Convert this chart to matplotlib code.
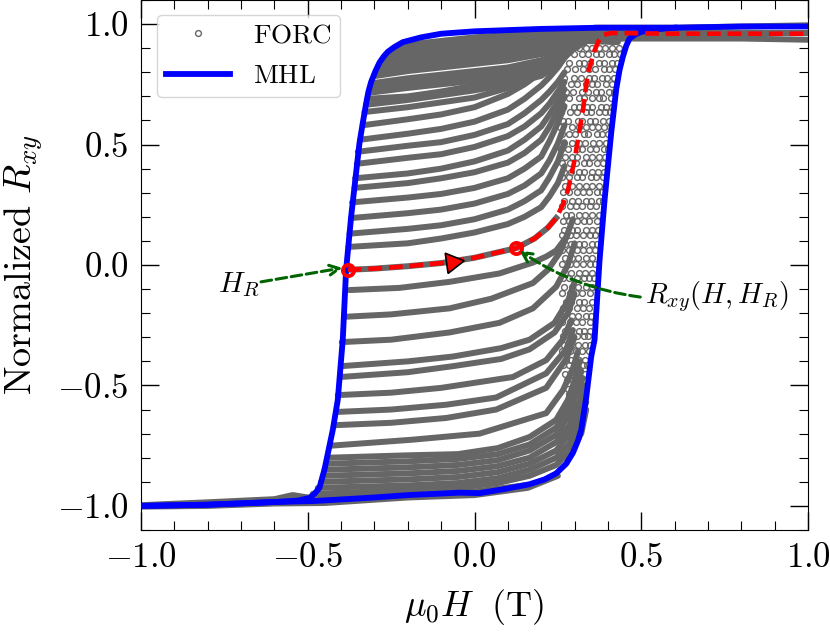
import matplotlib
matplotlib.use("Agg")
import matplotlib.pyplot as plt
from matplotlib.ticker import MultipleLocator

plt.rcParams['mathtext.fontset'] = 'cm'
plt.rcParams['font.family'] = ['cmr10', 'DejaVu Sans']
plt.rcParams['axes.unicode_minus'] = False

# Major hysteresis loop
MHL_H = [-1.0, -0.8, -0.585, -0.53, -0.495, -0.48, -0.465, -0.45, -0.425, -0.41, -0.395, -0.385, -0.37, -0.345, -0.335,
         -0.325, -0.318, -0.31, -0.297, -0.285, -0.272, -0.26, -0.24, -0.215, -0.16, -0.1, 0.0, 0.2, 0.375, 0.6, 0.8, 1.0]
MHL_R = [-1.0, -0.995, -0.983, -0.978, -0.967, -0.95, -0.925, -0.85, -0.685, -0.56, -0.31, -0.02, 0.2, 0.505, 0.59,
         0.67, 0.72, 0.76, 0.805, 0.84, 0.866, 0.885, 0.905, 0.925, 0.945, 0.96, 0.97, 0.98, 0.985, 0.985, 0.99, 0.99]
MHL_UP_H = [-1.0, -0.8, -0.585, -0.485, -0.3, -0.2, -0.12, -0.045, 0.015, 0.09, 0.165, 0.21, 0.245, 0.275, 0.295, 0.31,
            0.32, 0.335, 0.35, 0.36, 0.375, 0.39, 0.41, 0.425, 0.435, 0.445, 0.455, 0.465, 0.48, 0.495, 0.52, 0.6]
MHL_UP_R = [-1.0, -0.995, -0.983, -0.98, -0.965, -0.955, -0.95, -0.945, -0.947, -0.93, -0.91, -0.89, -0.865, -0.825, -0.78,
            -0.73, -0.685, -0.55, -0.38, -0.31, 0.02, 0.27, 0.55, 0.73, 0.81, 0.865, 0.91, 0.94, 0.955, 0.965, 0.975, 0.985]

# Highlighted FORC
RED_H = [-0.38, -0.3, -0.2, -0.1, 0.0, 0.125, 0.18, 0.22, 0.245, 0.265, 0.28, 0.30, 0.325, 0.34, 0.36, 0.372, 0.385, 0.41, 0.6, 0.8, 1.0]
RED_R = [-0.02, -0.015, -0.005, 0.008, 0.03, 0.07, 0.11, 0.155, 0.195, 0.25, 0.31, 0.435, 0.643, 0.797, 0.89, 0.93, 0.955, 0.963, 0.96, 0.96, 0.96]
RED_GREY_H = [-0.38, -0.3, -0.2, -0.1, 0.0, 0.125, 0.18, 0.22, 0.245]
RED_GREY_R = [-0.02, -0.015, -0.005, 0.008, 0.03, 0.07, 0.11, 0.155, 0.195]
START_H, START_R = [-0.38], [-0.02]
MID_H, MID_R = [0.125], [0.07]
ARROW_H, ARROW_R = [-0.067], [0.012]

# FORC bands: one (H, R) pair of lists per reversal field
FORC = [
    ([-0.24, -0.2, -0.1, 0, 0.1, 0.2, 0.27, 0.33, 0.43], [0.90, 0.915, 0.93, 0.945, 0.955, 0.96, 0.965, 0.97, 0.975]),
    ([-0.255, -0.2, -0.1, 0, 0.1, 0.2, 0.27, 0.33, 0.44], [0.88, 0.90, 0.915, 0.93, 0.94, 0.95, 0.955, 0.96, 0.955]),
    ([-0.265, -0.2, -0.1, 0, 0.1, 0.2, 0.27, 0.33, 0.44], [0.865, 0.885, 0.90, 0.915, 0.925, 0.935, 0.945, 0.945, 0.94]),
    ([-0.28, -0.2, -0.1, 0, 0.1, 0.2, 0.27, 0.33, 0.43], [0.845, 0.865, 0.88, 0.895, 0.905, 0.92, 0.93, 0.93, 0.925]),
    ([-0.285, -0.2, -0.1, 0, 0.1, 0.2, 0.27, 0.33], [0.825, 0.845, 0.86, 0.875, 0.89, 0.905, 0.92, 0.92]),
    ([-0.29, -0.2, -0.1, 0, 0.1, 0.2, 0.27, 0.32], [0.805, 0.825, 0.84, 0.855, 0.87, 0.89, 0.91, 0.915]),
    ([-0.295, -0.2, -0.1, 0, 0.1, 0.2, 0.27, 0.31], [0.785, 0.805, 0.82, 0.835, 0.85, 0.875, 0.90, 0.91]),
    ([-0.305, -0.2, -0.1, 0, 0.1, 0.2, 0.27, 0.31], [0.755, 0.775, 0.79, 0.805, 0.82, 0.85, 0.885, 0.905]),
    ([-0.31, -0.2, -0.1, 0, 0.1, 0.2, 0.27, 0.30], [0.735, 0.755, 0.77, 0.785, 0.80, 0.83, 0.875, 0.90]),
    ([-0.315, -0.2, -0.1, 0, 0.1, 0.2, 0.26, 0.29], [0.715, 0.735, 0.75, 0.765, 0.78, 0.81, 0.855, 0.885]),
    ([-0.32, -0.2, -0.1, 0, 0.1, 0.2, 0.25, 0.28], [0.69, 0.70, 0.72, 0.745, 0.765, 0.80, 0.84, 0.88]),
    ([-0.325, -0.2, -0.1, 0, 0.1, 0.2, 0.25, 0.28], [0.665, 0.685, 0.705, 0.725, 0.75, 0.785, 0.83, 0.875]),
    ([-0.33, -0.2, -0.1, 0, 0.1, 0.2, 0.25, 0.27], [0.635, 0.655, 0.675, 0.695, 0.735, 0.805, 0.865, 0.89]),
    ([-0.335, -0.2, -0.1, 0, 0.1, 0.15, 0.2, 0.225, 0.25, 0.27], [0.58, 0.605, 0.625, 0.655, 0.71, 0.75, 0.80, 0.835, 0.87, 0.90]),
    ([-0.343, -0.2, -0.1, 0, 0.1, 0.15, 0.2, 0.225, 0.25, 0.27], [0.52, 0.545, 0.565, 0.595, 0.645, 0.69, 0.745, 0.78, 0.82, 0.86]),
    ([-0.35, -0.2, -0.1, 0, 0.1, 0.15, 0.2, 0.225, 0.25, 0.27], [0.47, 0.495, 0.51, 0.54, 0.585, 0.63, 0.685, 0.72, 0.76, 0.80]),
    ([-0.353, -0.2, -0.1, 0, 0.1, 0.15, 0.2, 0.225, 0.25, 0.27], [0.42, 0.445, 0.46, 0.49, 0.535, 0.575, 0.63, 0.67, 0.72, 0.76]),
    ([-0.358, -0.2, -0.1, 0, 0.1, 0.15, 0.2, 0.225, 0.25, 0.27], [0.36, 0.38, 0.40, 0.43, 0.475, 0.52, 0.575, 0.625, 0.68, 0.73]),
    ([-0.36, -0.2, -0.1, 0, 0.1, 0.15, 0.2, 0.225, 0.25, 0.27], [0.32, 0.34, 0.36, 0.385, 0.425, 0.465, 0.52, 0.575, 0.64, 0.70]),
    ([-0.367, -0.2, -0.1, 0, 0.1, 0.15, 0.2, 0.225, 0.25, 0.27], [0.26, 0.28, 0.295, 0.32, 0.36, 0.40, 0.45, 0.515, 0.59, 0.66]),
    ([-0.37, -0.2, -0.1, 0, 0.1, 0.15, 0.2, 0.225, 0.25, 0.27], [0.195, 0.215, 0.23, 0.255, 0.295, 0.33, 0.38, 0.435, 0.505, 0.58]),
    ([-0.375, -0.2, -0.1, 0, 0.1, 0.15, 0.2, 0.225, 0.25, 0.27], [0.13, 0.15, 0.165, 0.19, 0.23, 0.265, 0.31, 0.365, 0.43, 0.51]),
    ([-0.378, -0.2, -0.1, 0, 0.1, 0.15, 0.2, 0.225, 0.25, 0.27], [0.075, 0.09, 0.11, 0.135, 0.17, 0.20, 0.24, 0.285, 0.34, 0.41]),
    ([-0.375, -0.225, -0.075, 0.075, 0.175, 0.215, 0.245, 0.275, 0.295], [-0.104, -0.095, -0.07, -0.035, 0.01, 0.035, 0.06, 0.115, 0.19]),
    ([-0.39, -0.25, -0.075, 0.05, 0.175, 0.22, 0.255, 0.28], [-0.215, -0.205, -0.18, -0.14, -0.075, -0.02, 0.05, 0.13]),
    ([-0.398, -0.25, -0.075, 0.075, 0.175, 0.245, 0.28, 0.30], [-0.32, -0.31, -0.28, -0.24, -0.18, -0.09, 0.0, 0.09]),
    ([-0.40, -0.2, -0.065, 0.08, 0.165, 0.24, 0.28, 0.30], [-0.42, -0.40, -0.38, -0.345, -0.31, -0.24, -0.15, -0.07]),
    ([-0.403, -0.2, -0.065, 0.08, 0.165, 0.24, 0.28, 0.30], [-0.465, -0.445, -0.42, -0.39, -0.35, -0.28, -0.20, -0.12]),
    ([-0.41, -0.25, -0.1, 0.115, 0.215, 0.265, 0.29], [-0.54, -0.53, -0.51, -0.465, -0.395, -0.31, -0.23]),
    ([-0.413, -0.25, -0.085, 0.065, 0.215, 0.275, 0.295], [-0.61, -0.60, -0.58, -0.55, -0.45, -0.35, -0.27]),
    ([-0.42, -0.25, -0.085, 0.065, 0.215, 0.275, 0.30], [-0.665, -0.655, -0.635, -0.60, -0.51, -0.39, -0.30]),
    ([-0.43, -0.185, 0.015, 0.215, 0.265, 0.295, 0.31], [-0.75, -0.725, -0.70, -0.615, -0.52, -0.43, -0.36]),
    ([-0.44, -0.2, -0.05, 0.07, 0.165, 0.245, 0.28, 0.30, 0.315], [-0.80, -0.79, -0.785, -0.76, -0.714, -0.643, -0.56, -0.48, -0.40]),
    ([-0.445, -0.2, -0.05, 0.07, 0.165, 0.245, 0.28, 0.30, 0.32], [-0.825, -0.815, -0.805, -0.785, -0.745, -0.675, -0.60, -0.52, -0.44]),
    ([-0.45, -0.2, -0.05, 0.07, 0.165, 0.245, 0.28, 0.30, 0.325], [-0.85, -0.84, -0.83, -0.81, -0.77, -0.705, -0.63, -0.55, -0.47]),
    ([-0.455, -0.2, -0.05, 0.07, 0.165, 0.245, 0.285, 0.31, 0.33], [-0.875, -0.865, -0.855, -0.835, -0.80, -0.735, -0.665, -0.585, -0.50]),
    ([-0.46, -0.2, -0.05, 0.07, 0.165, 0.245, 0.285, 0.31, 0.335], [-0.90, -0.89, -0.88, -0.86, -0.825, -0.77, -0.70, -0.62, -0.53]),
    ([-0.47, -0.2, -0.05, 0.07, 0.165, 0.245, 0.285, 0.31, 0.335], [-0.925, -0.915, -0.905, -0.885, -0.85, -0.80, -0.74, -0.66, -0.57]),
    ([-0.485, -0.2, -0.05, 0.07, 0.165, 0.245, 0.285, 0.32, 0.335], [-0.95, -0.935, -0.925, -0.905, -0.875, -0.83, -0.775, -0.70, -0.60]),
    ([-1.0, -0.8, -0.6, -0.545, -0.5, -0.2, 0.0, 0.15], [-0.997, -0.985, -0.972, -0.955, -0.965, -0.945, -0.94, -0.915]),
    ([-1.0, -0.8, -0.6, -0.45, -0.2, 0.0, 0.16, 0.25], [-1.003, -1.0, -0.99, -0.988, -0.965, -0.955, -0.925, -0.875]),
    ([0.36, 0.45, 0.6, 0.8, 1.0], [0.985, 0.985, 0.985, 0.99, 0.995]),
    ([0.36, 0.45, 0.6, 0.8, 1.0], [0.965, 0.965, 0.965, 0.965, 0.965]),
    ([0.40, 0.47, 0.6, 0.8, 1.0], [0.94, 0.94, 0.94, 0.94, 0.935]),
]

# Sparse open-circle part of the FORCs, read row by row (R level: H values)
CIRCLE_R = [0.902, 0.874, 0.838, 0.812, 0.777, 0.752, 0.718, 0.693, 0.657, 0.634, 0.598, 0.572, 0.543, 0.507, 0.483, 0.447, 0.424,
            0.386, 0.364, 0.328, 0.304, 0.267, 0.244, 0.208, 0.183, 0.147, 0.124, 0.087, 0.063, 0.027, 0.004, -0.034, -0.056, -0.093,
            -0.116, -0.154, -0.177, -0.213, -0.236, -0.274, -0.296, -0.334, -0.356, -0.394, -0.416, -0.454, -0.476, -0.514,
            -0.536, -0.574, -0.596, -0.634, -0.656, -0.694, -0.716]
CIRCLE_H = [
    [0.312, 0.334, 0.352, 0.373, 0.391, 0.413, 0.432],
    [0.298, 0.323, 0.341, 0.365, 0.378, 0.402, 0.419, 0.436],
    [0.283, 0.314, 0.329, 0.347, 0.372, 0.387, 0.411, 0.428],
    [0.278, 0.301, 0.326, 0.343, 0.361, 0.389, 0.403, 0.422],
    [0.269, 0.297, 0.318, 0.344, 0.358, 0.382, 0.398, 0.418],
    [0.261, 0.289, 0.308, 0.333, 0.352, 0.367, 0.393, 0.411],
    [0.274, 0.296, 0.323, 0.339, 0.364, 0.379, 0.404, 0.417],
    [0.259, 0.284, 0.312, 0.328, 0.353, 0.372, 0.386, 0.408],
    [0.266, 0.298, 0.313, 0.338, 0.351, 0.379, 0.394, 0.411],
    [0.258, 0.287, 0.306, 0.334, 0.348, 0.373, 0.392, 0.407],
    [0.264, 0.281, 0.309, 0.321, 0.346, 0.362, 0.384, 0.403],
    [0.256, 0.291, 0.312, 0.333, 0.352, 0.371, 0.388, 0.406],
    [0.262, 0.283, 0.302, 0.328, 0.341, 0.367, 0.382, 0.401],
    [0.268, 0.292, 0.313, 0.331, 0.354, 0.372, 0.393],
    [0.259, 0.281, 0.306, 0.322, 0.347, 0.363, 0.387, 0.399],
    [0.271, 0.293, 0.308, 0.334, 0.351, 0.374, 0.392],
    [0.263, 0.286, 0.304, 0.327, 0.343, 0.368, 0.386],
    [0.268, 0.289, 0.313, 0.329, 0.352, 0.371, 0.388],
    [0.262, 0.283, 0.307, 0.323, 0.348, 0.363, 0.384],
    [0.272, 0.291, 0.312, 0.334, 0.353, 0.372],
    [0.264, 0.282, 0.307, 0.326, 0.344, 0.367, 0.382],
    [0.268, 0.293, 0.309, 0.333, 0.348, 0.373, 0.384],
    [0.261, 0.286, 0.304, 0.322, 0.346, 0.364],
    [0.273, 0.288, 0.313, 0.331, 0.352, 0.372],
    [0.264, 0.283, 0.306, 0.327, 0.343, 0.367],
    [0.269, 0.292, 0.308, 0.334, 0.351, 0.371],
    [0.263, 0.286, 0.304, 0.324, 0.347, 0.362],
    [0.272, 0.288, 0.313, 0.329, 0.353, 0.368],
    [0.262, 0.284, 0.307, 0.326, 0.344, 0.362],
    [0.271, 0.293, 0.309, 0.333, 0.352],
    [0.263, 0.287, 0.304, 0.324, 0.347, 0.362],
    [0.272, 0.289, 0.312, 0.331, 0.351],
    [0.266, 0.283, 0.306, 0.327, 0.344, 0.358],
    [0.269, 0.292, 0.309, 0.334, 0.352],
    [0.263, 0.286, 0.303, 0.323, 0.346],
    [0.273, 0.288, 0.313, 0.329, 0.351],
    [0.264, 0.284, 0.307, 0.326, 0.343],
    [0.268, 0.291, 0.309, 0.333, 0.349],
    [0.262, 0.286, 0.304, 0.322, 0.346],
    [0.272, 0.288, 0.312, 0.329, 0.345],
    [0.266, 0.283, 0.306, 0.327, 0.341],
    [0.269, 0.292, 0.309, 0.332, 0.346],
    [0.263, 0.287, 0.304, 0.323, 0.342],
    [0.273, 0.289, 0.312, 0.331],
    [0.266, 0.284, 0.306, 0.326, 0.336],
    [0.271, 0.292, 0.308, 0.331],
    [0.276, 0.294, 0.316, 0.329],
    [0.281, 0.302, 0.319],
    [0.284, 0.306, 0.326],
    [0.292, 0.309, 0.324],
    [0.286, 0.304, 0.321],
    [0.289, 0.312, 0.319],
    [0.296, 0.309],
    [0.299, 0.316],
    [0.293, 0.311],
]

X_TICKS = [-1.0, -0.5, 0.0, 0.5, 1.0]
Y_TICKS = [-1.0, -0.5, 0.0, 0.5, 1.0]
TICK_FMT = [r'$-1.0$', r'$-0.5$', r'$0.0$', r'$0.5$', r'$1.0$']

GREY = '#666666'
fig = plt.figure(figsize=(8.3, 6.34), dpi=100)
ax = fig.add_axes([141 / 830, (634 - 530) / 634, 667 / 830, 530 / 634])

for h, r in FORC:
    ax.plot(h, r, color=GREY, lw=4.3, solid_capstyle='round', solid_joinstyle='round', zorder=2)
ax.plot(RED_GREY_H, RED_GREY_R, color=GREY, lw=4.3, zorder=2)

circ_h = [x for row in CIRCLE_H for x in row]
circ_r = [level for level, row in zip(CIRCLE_R, CIRCLE_H) for _ in row]
ax.plot(circ_h, circ_r, ls='none', marker='o', ms=4.2, mfc='none', mec=GREY, mew=1.0, zorder=2, label=r'$\mathrm{FORC}$')

ax.plot(MHL_H, MHL_R, color='#0000ff', lw=4.2, zorder=3, label=r'$\mathrm{MHL}$', solid_joinstyle='round')
ax.plot(MHL_UP_H, MHL_UP_R, color='#0000ff', lw=4.2, zorder=3, solid_joinstyle='round')

ax.plot(RED_H, RED_R, color='#ff0000', lw=3.3, ls=(0, (3.0, 1.5)), zorder=4)
ax.plot(START_H + MID_H, START_R + MID_R, ls='none', marker='o', ms=8, mfc='none', mec='#ff0000', mew=2.8, zorder=5)
ax.plot(ARROW_H, ARROW_R, ls='none', marker=(3, 0, -82), ms=17, mfc='#ff0000', mec='black', mew=1.2, zorder=6)

green = dict(arrowstyle='->,head_length=0.7,head_width=0.35', color='#006400', lw=2.2, ls=(0, (3.5, 1.5)),
             shrinkA=0, shrinkB=0)
ax.annotate('', xy=(-0.396, -0.012), xytext=(-0.64, -0.07), arrowprops=green, zorder=7)
ax.annotate('', xy=(0.135, 0.06), xytext=(0.497, -0.133),
            arrowprops=dict(green, connectionstyle='arc3,rad=-0.12'), zorder=7)
ax.text(-0.708, -0.083, r'$H_R$', fontsize=21, ha='center', va='center', zorder=7)
ax.text(0.727, -0.13, r'$R_{xy}(H,H_R)$', fontsize=20.6, ha='center', va='center', zorder=7)

ax.set_xlim(-1.0, 1.0)
ax.set_ylim(-1.1, 1.1)
ax.set_xticks(X_TICKS)
ax.set_yticks(Y_TICKS)
ax.set_xticklabels(TICK_FMT)
ax.set_yticklabels(TICK_FMT)
ax.xaxis.set_minor_locator(MultipleLocator(0.1))
ax.yaxis.set_minor_locator(MultipleLocator(0.1))
ax.tick_params(which='major', direction='in', top=True, right=True, length=13, width=1.0, labelsize=25, pad=9)
ax.tick_params(which='minor', direction='in', top=True, right=True, length=6.5, width=0.8)
ax.set_xlabel(r'$\mu_0 H\ \ (\mathrm{T})$', fontsize=26, labelpad=9.5)
ax.set_ylabel(r'$\mathrm{Normalized}\ R_{xy}$', fontsize=27.5)
ax.yaxis.set_label_coords(-(141 - 45) / 667, 0.5)

leg = ax.legend(loc='upper left', bbox_to_anchor=(16 / 667, 1 - 15 / 530), borderaxespad=0, fontsize=19.5,
                frameon=True, fancybox=True, framealpha=0.8, edgecolor='#cccccc', handlelength=2.36,
                labelspacing=0.6, handletextpad=0.85, borderpad=0.33)
fig.savefig('out.png', dpi=100)
